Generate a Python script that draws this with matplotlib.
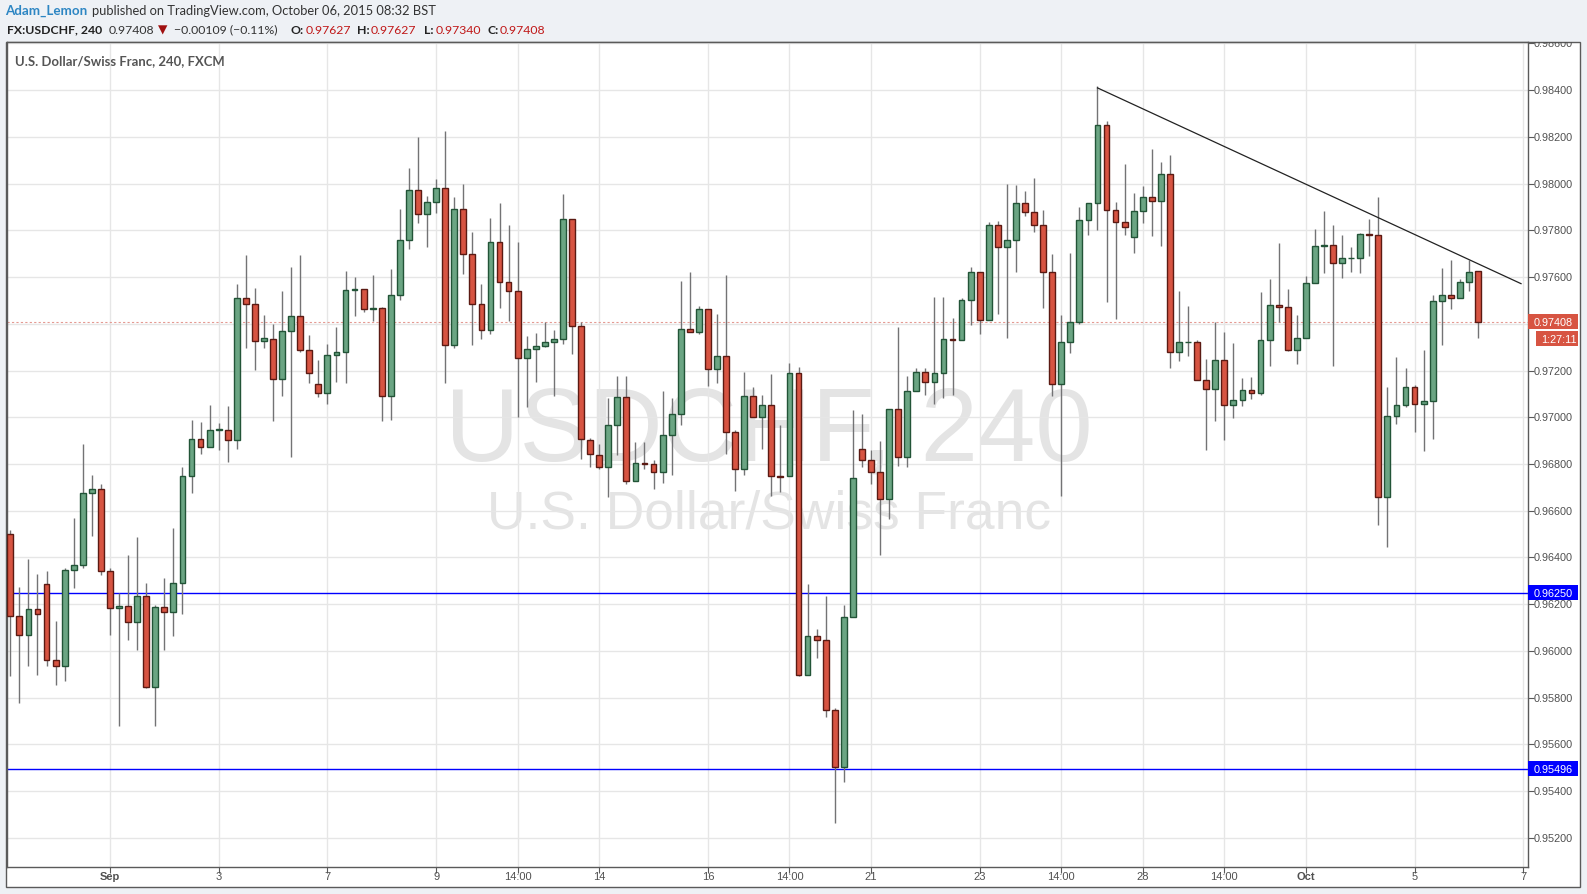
import matplotlib
matplotlib.use('Agg')
import matplotlib.pyplot as plt
from matplotlib.patches import Rectangle
from matplotlib.transforms import Bbox, TransformedBbox, blended_transform_factory
import numpy as np

# ---------------- data (USD/CHF, 4h candles, 28 Aug - 6 Oct 2015) ----------------
opens = [0.96499, 0.96149, 0.96070, 0.96178, 0.96285, 0.95959, 0.95937, 0.96345, 0.96369, 0.96674,
         0.96691, 0.96341, 0.96184, 0.96194, 0.96123, 0.96234, 0.95846, 0.96186, 0.96165, 0.96289,
         0.96747, 0.96909, 0.96872, 0.96947, 0.96947, 0.96901, 0.97509, 0.97487, 0.97327, 0.97337,
         0.97163, 0.97371, 0.97432, 0.97287, 0.97143, 0.97103, 0.97268, 0.97278, 0.97543, 0.97551,
         0.97464, 0.97466, 0.97093, 0.97525, 0.97761, 0.97975, 0.97872, 0.97923, 0.97983, 0.97311,
         0.97891, 0.97697, 0.97487, 0.97375, 0.97749, 0.97581, 0.97539, 0.97252, 0.97291, 0.97303,
         0.97321, 0.97335, 0.97850, 0.97392, 0.96901, 0.96840, 0.96788, 0.96969, 0.97085, 0.96727,
         0.96806, 0.96802, 0.96765, 0.96923, 0.97016, 0.97379, 0.97363, 0.97462, 0.97206, 0.97264,
         0.96939, 0.96778, 0.97089, 0.97000, 0.97054, 0.96747, 0.96747, 0.97188, 0.95899, 0.96062,
         0.96048, 0.95745, 0.95501, 0.96147, 0.96866, 0.96816, 0.96767, 0.96652, 0.97034, 0.96832,
         0.97113, 0.97192, 0.97153, 0.97188, 0.97337, 0.97329, 0.97503, 0.97620, 0.97418, 0.97822,
         0.97729, 0.97757, 0.97919, 0.97880, 0.97822, 0.97624, 0.97141, 0.97321, 0.97406, 0.97846,
         0.97919, 0.98250, 0.97888, 0.97838, 0.97773, 0.97884, 0.97945, 0.97927, 0.98040, 0.97278,
         0.97321, 0.97321, 0.97159, 0.97119, 0.97244, 0.97054, 0.97076, 0.97115, 0.97103, 0.97329,
         0.97482, 0.97470, 0.97287, 0.97341, 0.97573, 0.97735, 0.97739, 0.97662, 0.97680, 0.97680,
         0.97783, 0.97779, 0.96658, 0.97004, 0.97054, 0.97131, 0.97058, 0.97068, 0.97497, 0.97525,
         0.97511, 0.97577, 0.97627]
highs = [0.96519, 0.96272, 0.96394, 0.96329, 0.96341, 0.96129, 0.96353, 0.96569, 0.96887, 0.96751,
         0.96715, 0.96353, 0.96246, 0.96410, 0.96489, 0.96291, 0.96198, 0.96313, 0.96527, 0.96786,
         0.96988, 0.96980, 0.97052, 0.96975, 0.97048, 0.97571, 0.97695, 0.97553, 0.97438, 0.97398,
         0.97541, 0.97644, 0.97695, 0.97353, 0.97246, 0.97313, 0.97388, 0.97626, 0.97600, 0.97551,
         0.97610, 0.97470, 0.97634, 0.97891, 0.98066, 0.98200, 0.97949, 0.98020, 0.98226, 0.97941,
         0.98000, 0.97794, 0.97571, 0.97852, 0.97917, 0.97824, 0.97751, 0.97347, 0.97361, 0.97406,
         0.97373, 0.97955, 0.97850, 0.97410, 0.96911, 0.96887, 0.97083, 0.97175, 0.97177, 0.96893,
         0.96893, 0.96818, 0.97113, 0.97081, 0.97583, 0.97622, 0.97476, 0.97462, 0.97442, 0.97610,
         0.96947, 0.97194, 0.97129, 0.97095, 0.97186, 0.96967, 0.97232, 0.97216, 0.96287, 0.96095,
         0.96236, 0.95755, 0.96196, 0.97032, 0.97014, 0.96862, 0.96899, 0.97034, 0.97388, 0.97177,
         0.97212, 0.97212, 0.97515, 0.97515, 0.97426, 0.97511, 0.97642, 0.97624, 0.97836, 0.97840,
         0.98000, 0.97994, 0.97969, 0.98024, 0.97886, 0.97699, 0.97438, 0.97703, 0.97901, 0.97919,
         0.98420, 0.98270, 0.97923, 0.98084, 0.97959, 0.97992, 0.98149, 0.98093, 0.98123, 0.97539,
         0.97476, 0.97329, 0.97250, 0.97408, 0.97365, 0.97319, 0.97167, 0.97173, 0.97537, 0.97592,
         0.97745, 0.97549, 0.97438, 0.97606, 0.97806, 0.97882, 0.97824, 0.97779, 0.97729, 0.97790,
         0.97848, 0.97943, 0.97129, 0.97258, 0.97212, 0.97139, 0.97289, 0.97523, 0.97640, 0.97672,
         0.97592, 0.97674, 0.97627]
lows = [0.95893, 0.95776, 0.95937, 0.95899, 0.95937, 0.95856, 0.95873, 0.96270, 0.96357, 0.96491,
        0.96327, 0.96070, 0.95677, 0.96048, 0.96006, 0.95842, 0.95677, 0.96006, 0.96064, 0.96159,
        0.96674, 0.96844, 0.96872, 0.96860, 0.96810, 0.96864, 0.97297, 0.97204, 0.97295, 0.96982,
        0.97093, 0.96832, 0.97280, 0.97145, 0.97085, 0.97058, 0.97149, 0.97145, 0.97432, 0.97452,
        0.97414, 0.96982, 0.96990, 0.97501, 0.97719, 0.97830, 0.97731, 0.97874, 0.97145, 0.97295,
        0.97612, 0.97311, 0.97337, 0.97355, 0.97468, 0.97412, 0.97000, 0.97042, 0.97153, 0.97300,
        0.97089, 0.97315, 0.97270, 0.96820, 0.96786, 0.96780, 0.96660, 0.96840, 0.96715, 0.96727,
        0.96778, 0.96691, 0.96717, 0.96751, 0.96969, 0.97363, 0.97355, 0.97133, 0.97145, 0.96842,
        0.96683, 0.96751, 0.97000, 0.96866, 0.96664, 0.96679, 0.96747, 0.95893, 0.95899, 0.95969,
        0.95715, 0.95265, 0.95438, 0.96147, 0.96788, 0.96715, 0.96412, 0.96563, 0.96792, 0.96788,
        0.97113, 0.97095, 0.97058, 0.97083, 0.97095, 0.97329, 0.97394, 0.97355, 0.97418, 0.97444,
        0.97341, 0.97624, 0.97860, 0.97792, 0.97466, 0.97093, 0.96664, 0.97276, 0.97398, 0.97779,
        0.97802, 0.97493, 0.97422, 0.97781, 0.97705, 0.97830, 0.97775, 0.97735, 0.97210, 0.97240,
        0.97264, 0.97159, 0.96858, 0.96986, 0.96903, 0.96996, 0.97050, 0.97078, 0.97097, 0.97218,
        0.97406, 0.97282, 0.97230, 0.97341, 0.97573, 0.97616, 0.97218, 0.97598, 0.97624, 0.97616,
        0.97689, 0.96541, 0.96446, 0.96973, 0.97042, 0.96939, 0.96854, 0.96909, 0.97311, 0.97462,
        0.97511, 0.97539, 0.97340]
closes = [0.96149, 0.96070, 0.96178, 0.96159, 0.95959, 0.95937, 0.96345, 0.96369, 0.96674, 0.96691,
          0.96341, 0.96184, 0.96194, 0.96123, 0.96234, 0.95846, 0.96186, 0.96165, 0.96289, 0.96747,
          0.96909, 0.96872, 0.96947, 0.96949, 0.96901, 0.97509, 0.97487, 0.97327, 0.97339, 0.97163,
          0.97371, 0.97432, 0.97287, 0.97190, 0.97103, 0.97268, 0.97278, 0.97543, 0.97551, 0.97462,
          0.97466, 0.97093, 0.97525, 0.97761, 0.97975, 0.97872, 0.97923, 0.97983, 0.97311, 0.97891,
          0.97697, 0.97487, 0.97375, 0.97749, 0.97581, 0.97539, 0.97252, 0.97291, 0.97303, 0.97321,
          0.97335, 0.97850, 0.97392, 0.96905, 0.96842, 0.96788, 0.96969, 0.97085, 0.96727, 0.96806,
          0.96802, 0.96765, 0.96923, 0.97016, 0.97379, 0.97363, 0.97462, 0.97206, 0.97264, 0.96939,
          0.96778, 0.97089, 0.97000, 0.97054, 0.96747, 0.96745, 0.97188, 0.95899, 0.96062, 0.96048,
          0.95745, 0.95501, 0.96147, 0.96739, 0.96816, 0.96767, 0.96652, 0.97034, 0.96832, 0.97113,
          0.97192, 0.97153, 0.97188, 0.97337, 0.97329, 0.97503, 0.97620, 0.97418, 0.97822, 0.97729,
          0.97757, 0.97919, 0.97880, 0.97822, 0.97624, 0.97141, 0.97321, 0.97406, 0.97846, 0.97919,
          0.98250, 0.97888, 0.97838, 0.97816, 0.97884, 0.97945, 0.97927, 0.98040, 0.97278, 0.97321,
          0.97323, 0.97159, 0.97119, 0.97244, 0.97054, 0.97076, 0.97115, 0.97103, 0.97329, 0.97482,
          0.97470, 0.97287, 0.97341, 0.97573, 0.97735, 0.97739, 0.97662, 0.97680, 0.97682, 0.97783,
          0.97779, 0.96658, 0.97004, 0.97054, 0.97131, 0.97058, 0.97068, 0.97497, 0.97525, 0.97511,
          0.97577, 0.97620, 0.97408]

x_tick_pos = [11, 23, 35, 47, 56, 65, 77, 86, 95, 107, 116, 125, 134, 143, 155, 167]
x_tick_labels = ['Sep', '3', '7', '9', '14:00', '14', '16', '14:00', '21', '23', '14:00', '28',
                 '14:00', 'Oct', '5', '7']
bold_labels = ['Sep', 'Oct']
price_ticks = [0.952, 0.954, 0.956, 0.958, 0.960, 0.962, 0.964, 0.966, 0.968, 0.970,
               0.972, 0.974, 0.976, 0.978, 0.980, 0.982, 0.984, 0.986]
support_levels = [0.96250, 0.95496]
trend_x = [120.0, 166.75]
trend_y = [0.98410, 0.97572]
last_price = 0.97408
countdown = '1:27:11'

# ---------------- figure ----------------
W, H = 1587, 895
fig = plt.figure(figsize=(W / 100, H / 100), dpi=100, facecolor='#eef1f5')
renderer = fig.canvas.get_renderer()


def fx(px):
    return px / W


def fy(py):
    return 1 - py / H


def fit(t, width_px):
    w = t.get_window_extent(renderer).width
    t.set_fontsize(t.get_fontsize() * width_px / w)


# chart container
fig.patches.append(Rectangle((fx(6), fy(888)), fx(1580) - fx(6), fy(43) - fy(888),
                             transform=fig.transFigure, facecolor='white',
                             edgecolor='#5a5a5a', lw=1, zorder=-1))

ax = fig.add_axes([fx(6.5), fy(867.7), fx(1528) - fx(6.5), fy(43) - fy(867.7)])
ax.patch.set_visible(False)
ax.set_xlim(-0.42, 167.52)
ax.set_ylim(0.950763, 0.986064)
for s in ax.spines.values():
    s.set_color('#5a5a5a')
    s.set_linewidth(1)

ax.set_xticks(x_tick_pos)
ax.set_yticks(price_ticks)
ax.yaxis.set_ticks_position('right')
ax.tick_params(axis='x', direction='out', length=4, color='#5a5a5a', labelbottom=False)
ax.tick_params(axis='y', direction='out', length=4, color='#5a5a5a', labelright=False,
               labelleft=False)
ax.grid(True, color='#e6e6e6', lw=1)
ax.set_axisbelow(True)

# watermark
wm1 = ax.text(0.0, 0.0, 'USDCHF, 240', family='Liberation Sans', fontsize=70, color='#e4e4e4',
              ha='center', va='baseline', zorder=0.2,
              transform=fig.transFigure)
wm1.set_position((fx(769), fy(460.5)))
fit(wm1, 648)
wm2 = ax.text(0.0, 0.0, 'U.S. Dollar/Swiss Franc', family='Liberation Sans', fontsize=38,
              color='#e4e4e4', ha='center', va='baseline', zorder=0.2,
              transform=fig.transFigure)
wm2.set_position((fx(769), fy(528.3)))
fit(wm2, 564)

# candles
O = np.array(opens)
Hh = np.array(highs)
L = np.array(lows)
C = np.array(closes)
idx = np.arange(len(O))
up = C >= O
bottom = np.minimum(O, C)
height = np.maximum(np.abs(C - O), 0.00002)
ax.vlines(idx, L, Hh, color='#737375', lw=1, zorder=2.5)
ax.bar(idx[up], height[up], bottom=bottom[up], width=0.64, color='#6ba583',
       edgecolor='#225437', lw=1, zorder=3)
ax.bar(idx[~up], height[~up], bottom=bottom[~up], width=0.64, color='#d75442',
       edgecolor='#5b1a13', lw=1, zorder=3)

# lines
for lvl in support_levels:
    ax.axhline(lvl, color='#0000ff', lw=1, zorder=2)
ax.axhline(last_price, color='#e49a92', lw=0.8, ls=(0, (2, 2)), zorder=1.5)
ax.plot(trend_x, trend_y, color='#222222', lw=0.9, zorder=4)

# price axis labels
ytrans = blended_transform_factory(fig.transFigure, ax.transData)
clipbox = TransformedBbox(Bbox([[0, 0], [1, fy(43)]]), fig.transFigure)
k = (0.986064 - 0.950763) / 824.7  # price per pixel
ylab_fs = None
for p in price_ticks:
    t = fig.text(fx(1533.5), p, f'{p:.5f}', transform=ytrans, ha='left', va='center',
                 fontsize=8, color='#505050', family='Liberation Sans', zorder=3)
    if ylab_fs is None:
        fit(t, 39)
        ylab_fs = t.get_fontsize()
    t.set_fontsize(ylab_fs)
    t.set_clip_box(clipbox)
    t.set_clip_on(True)


def price_box(p, text, color, x0=1528, x1=1578, dy=0.0):
    yc = p - dy * k
    fig.patches.append(Rectangle((fx(x0), yc - 7.5 * k), fx(x1) - fx(x0), 15 * k,
                                 transform=ytrans, facecolor=color, edgecolor='none',
                                 zorder=5))
    fig.text(fx(x0 + 5.5), yc, text, transform=ytrans, ha='left', va='center',
             fontsize=ylab_fs, color='white', family='Liberation Sans', zorder=6)


for lvl in support_levels:
    price_box(lvl, f'{lvl:.5f}', '#0000ff')
price_box(last_price, f'{last_price:.5f}', '#d75442')
price_box(last_price, countdown, '#d75442', x0=1536, dy=17)

# time axis labels
xtrans = blended_transform_factory(ax.transData, fig.transFigure)
for pos, lab in zip(x_tick_pos, x_tick_labels):
    fig.text(pos, fy(876.7), lab, transform=xtrans, ha='center', va='center',
             fontsize=ylab_fs * 1.02, color='#505050', family='Liberation Sans',
             fontweight='bold' if lab in bold_labels else 'normal')

# chart title
ttl = fig.text(fx(15.3), fy(65), 'U.S. Dollar/Swiss Franc, 240, FXCM', ha='left',
               va='baseline', fontsize=9, color='#555555', family='Lato', fontweight='bold')
fit(ttl, 209)

# header
hfam = ['Lato', 'DejaVu Sans']
pub = fig.text(fx(91.5), fy(15.0), 'published on TradingView.com, October 06, 2015 08:32 BST',
               ha='left', va='baseline', fontsize=9, color='#333333', family=hfam)
fit(pub, 345)
hfs = pub.get_fontsize()
au = fig.text(fx(5.4), fy(15.0), 'Adam_Lemon', ha='left', va='baseline', fontsize=hfs,
              color='#2d86c3', family=hfam, fontweight='bold')
fit(au, 82)

parts = [('FX:USDCHF, 240', 6.9, 'bold', '#222222'),
         ('0.97408', 109, 'normal', '#333333'),
         ('\u25bc', 158, 'normal', '#a01010'),
         ('\u22120.00109 (\u22120.11%)', 174, 'normal', '#333333'),
         ('O:', 290.9, 'bold', '#222222'),
         ('0.97627', 306, 'normal', '#c01818'),
         ('H:', 357, 'bold', '#222222'),
         ('0.97627', 371, 'normal', '#c01818'),
         ('L:', 424, 'bold', '#222222'),
         ('0.97340', 435.5, 'normal', '#c01818'),
         ('C:', 487, 'bold', '#222222'),
         ('0.97408', 500, 'normal', '#c01818')]
probe = fig.text(0, 0, parts[0][0], fontsize=9, family=hfam, fontweight='bold')
fit(probe, 95.7)
lfs = probe.get_fontsize()
probe.remove()
for s, xp, wt, col in parts:
    fam = ['DejaVu Sans'] if s == '\u25bc' else hfam
    fig.text(fx(xp), fy(33.5), s, ha='left', va='baseline', fontsize=lfs, color=col,
             family=fam, fontweight=wt)

fig.savefig('out.png', dpi=100, facecolor=fig.get_facecolor())
